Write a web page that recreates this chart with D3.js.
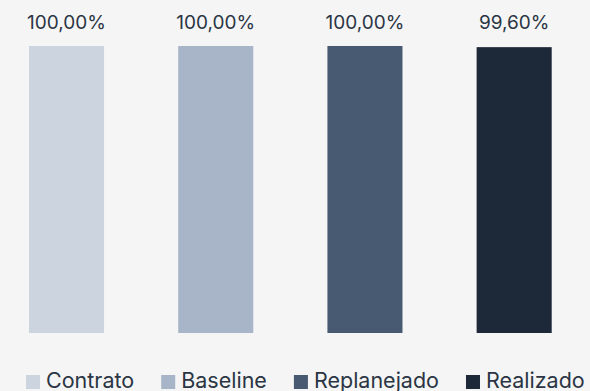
<!DOCTYPE html>
<html lang="pt">
<head>
<meta charset="UTF-8">
<script src="https://d3js.org/d3.v7.min.js"></script>
<style>
    body {
        margin: 0;
        padding: 0;
        background-color: #f5f5f5;
        font-family: 'Inter', 'Noto Sans', sans-serif;
    }
    svg { display: block; }
</style>
</head>
<body>
<svg id="chart" width="590" height="391"></svg>
<script>
    // chart data
    const categories = ["Contrato", "Baseline", "Replanejado", "Realizado"];
    const values = [100.00, 100.00, 100.00, 99.60];
    const colors = ["#cbd4df", "#a8b5c8", "#475a71", "#1d2838"];

    const width = 590, height = 391;
    const svg = d3.select("#chart");
    const textColor = "#2b3544";

    const x = d3.scaleBand()
        .domain(categories)
        .range([-8.3, 589])
        .paddingInner(0.497)
        .paddingOuter(0.25);

    const y = d3.scaleLinear()
        .domain([0, 100])
        .range([333, 46]);

    const fmt = v => v.toFixed(2).replace(".", ",") + "%";

    // bars
    svg.selectAll("rect.bar")
        .data(categories)
        .join("rect")
        .attr("class", "bar")
        .attr("x", d => x(d))
        .attr("y", (d, i) => y(values[i]))
        .attr("width", x.bandwidth())
        .attr("height", (d, i) => y(0) - y(values[i]))
        .attr("fill", (d, i) => colors[i]);

    // value labels
    svg.selectAll("text.label")
        .data(categories)
        .join("text")
        .attr("class", "label")
        .attr("x", d => x(d) + x.bandwidth() / 2)
        .attr("y", 29)
        .attr("text-anchor", "middle")
        .attr("font-size", 19)
        .attr("fill", textColor)
        .text((d, i) => fmt(values[i]));

    // legend
    const legend = svg.append("g").attr("transform", "translate(26, 375)");
    let lx = 0;
    categories.forEach((c, i) => {
        const g = legend.append("g").attr("transform", `translate(${lx},0)`);
        g.append("rect")
            .attr("width", 14)
            .attr("height", 14)
            .attr("fill", colors[i]);
        const t = g.append("text")
            .attr("x", 20)
            .attr("y", 13)
            .attr("font-size", 21.5)
            .attr("fill", textColor)
            .text(c);
        lx += 20 + t.node().getComputedTextLength() + 27;
    });
</script>
</body>
</html>
